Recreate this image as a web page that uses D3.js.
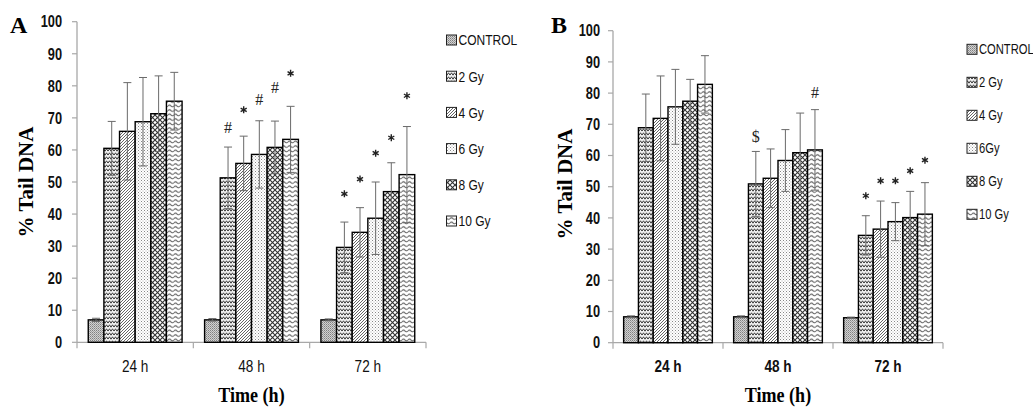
<!DOCTYPE html>
<html>
<head>
<meta charset="utf-8">
<script src="https://cdn.jsdelivr.net/npm/d3@7"></script>
<style>
  body { margin: 0; background: #fff; }
  svg { display: block; }
  .narrow { font-family: "Liberation Sans", "DejaVu Sans", sans-serif; }
  .serif { font-family: "Liberation Serif", "Times New Roman", serif; font-weight: bold; }
</style>
</head>
<body>
<div id="chart"></div>
<script>
const timePoints = ["24 h", "48 h", "72 h"];
const doseLabelsA = ["CONTROL", "2 Gy", "4 Gy", "6 Gy", "8 Gy", "10 Gy"];
const doseLabelsB = ["CONTROL", "2 Gy", "4 Gy", "6Gy", "8 Gy", "10 Gy"];
const yTicks = [0, 10, 20, 30, 40, 50, 60, 70, 80, 90, 100];

// % tail DNA, one row per dose, one value per time point
const tailA = [
  [7.0, 7.0, 7.0],
  [60.5, 51.3, 29.6],
  [65.8, 55.8, 34.3],
  [68.8, 58.6, 38.7],
  [71.3, 60.8, 47.0],
  [75.2, 63.3, 52.3]
];
const errA = [
  [0.5, 0.4, 0.3],
  [8.4, 9.6, 7.9],
  [15.2, 8.5, 7.7],
  [13.8, 10.5, 11.3],
  [11.8, 8.2, 9.0],
  [9.0, 10.3, 15.0]
];
const marksA = [
  { time: "48 h", dose: 1, sym: "#", at: 67.2 },
  { time: "48 h", dose: 2, sym: "*", at: 72.5 },
  { time: "48 h", dose: 3, sym: "#", at: 75.9 },
  { time: "48 h", dose: 4, sym: "#", at: 79.6 },
  { time: "48 h", dose: 5, sym: "*", at: 83.9 },
  { time: "72 h", dose: 1, sym: "*", at: 46.3 },
  { time: "72 h", dose: 2, sym: "*", at: 50.9 },
  { time: "72 h", dose: 3, sym: "*", at: 59.0 },
  { time: "72 h", dose: 4, sym: "*", at: 63.8 },
  { time: "72 h", dose: 5, sym: "*", at: 76.9 }
];

const tailB = [
  [8.3, 8.3, 8.0],
  [68.9, 50.9, 34.4],
  [71.9, 52.7, 36.4],
  [75.6, 58.4, 38.8],
  [77.4, 60.9, 40.1],
  [82.8, 61.8, 41.2]
];
const errB = [
  [0.3, 0.3, 0.2],
  [10.8, 10.4, 6.3],
  [13.6, 9.4, 9.0],
  [12.0, 9.9, 6.1],
  [7.0, 12.7, 8.4],
  [9.2, 12.9, 10.1]
];
const marksB = [
  { time: "48 h", dose: 1, sym: "$", at: 66.3 },
  { time: "48 h", dose: 5, sym: "#", at: 80.4 },
  { time: "72 h", dose: 1, sym: "*", at: 47.1 },
  { time: "72 h", dose: 2, sym: "*", at: 51.9 },
  { time: "72 h", dose: 3, sym: "*", at: 51.9 },
  { time: "72 h", dose: 4, sym: "*", at: 55.1 },
  { time: "72 h", dose: 5, sym: "*", at: 58.5 }
];

const svg = d3.select('#chart')
  .append('svg')
  .attr('width', 1033)
  .attr('height', 407);

// no condensed font installed, so squeeze the sans text horizontally
function narrowText(sel, x, y, size) {
  return sel.append('text')
    .attr('class', 'narrow')
    .attr('transform', `translate(${x},${y}) scale(0.8,1)`)
    .attr('font-size', size)
    .attr('fill', '#111');
}

// fill patterns, one per dose
const defs = svg.append('defs');
function pat(id, w, h, bg) {
  const p = defs.append('pattern')
    .attr('id', id)
    .attr('patternUnits', 'userSpaceOnUse')
    .attr('width', w)
    .attr('height', h);
  p.append('rect').attr('width', w).attr('height', h).attr('fill', bg);
  return p;
}
// control: dense grey dots
let p = pat('pat0', 2, 2, '#d2d2d2');
p.append('rect').attr('width', 1).attr('height', 1).attr('fill', '#808080');
p.append('rect').attr('x', 1).attr('y', 1).attr('width', 1).attr('height', 1).attr('fill', '#a0a0a0');
// 2 Gy: small zigzags
p = pat('pat1', 6, 4, '#f4f4f4');
p.append('path').attr('d', 'M0,3.2 L1.5,0.8 L3,3.2 L4.5,0.8 L6,3.2')
  .attr('fill', 'none').attr('stroke', '#3a3a3a').attr('stroke-width', 1);
// 4 Gy: diagonal lines
p = pat('pat2', 3, 3, '#fff');
p.append('path').attr('d', 'M-1,1 L1,-1 M0,3 L3,0 M2,4 L4,2')
  .attr('fill', 'none').attr('stroke', '#555').attr('stroke-width', 0.9);
// 6 Gy: sparse dots
p = pat('pat3', 3, 3, '#fff');
p.append('rect').attr('width', 1).attr('height', 1).attr('fill', '#888');
p.append('rect').attr('x', 1.5).attr('y', 1.5).attr('width', 1).attr('height', 1).attr('fill', '#b0b0b0');
// 8 Gy: diagonal cross-hatch
p = pat('pat4', 5, 5, '#fff');
p.append('path').attr('d', 'M0,0 L5,5 M5,0 L0,5')
  .attr('fill', 'none').attr('stroke', '#333').attr('stroke-width', 1.1);
// 10 Gy: horizontal waves
p = pat('pat5', 6, 4.5, '#fff');
p.append('path').attr('d', 'M0,2.5 Q1.5,0.8 3,2.5 T6,2.5')
  .attr('fill', 'none').attr('stroke', '#555').attr('stroke-width', 1);

const asterisk = d3.symbol().type(d3.symbolAsterisk).size(34);

function drawPanel(cfg) {
  const g = svg.append('g');
  const x = d3.scaleBand().domain(timePoints).range([cfg.left, cfg.right]);
  const xs = d3.scaleBand().domain(d3.range(cfg.doses.length))
    .range([0, x.bandwidth()]).paddingOuter(0.72);
  const y = d3.scaleLinear().domain([0, 100]).range([cfg.bottom, cfg.top]);

  // y axis
  g.append('line')
    .attr('x1', cfg.left).attr('x2', cfg.left)
    .attr('y1', y(100)).attr('y2', y(0))
    .attr('stroke', '#a8a8a8').attr('stroke-width', 1.3);
  yTicks.forEach(function(t) {
    g.append('line')
      .attr('x1', cfg.left - 5).attr('x2', cfg.left)
      .attr('y1', y(t)).attr('y2', y(t))
      .attr('stroke', '#a8a8a8').attr('stroke-width', 1.2);
    narrowText(g, cfg.left - cfg.tickGap, y(t), 16)
      .attr('dy', '0.36em')
      .attr('text-anchor', 'end')
      .attr('font-weight', 'bold')
      .text(t);
  });

  // x axis
  g.append('line')
    .attr('x1', cfg.left).attr('x2', cfg.right)
    .attr('y1', y(0)).attr('y2', y(0))
    .attr('stroke', '#a8a8a8').attr('stroke-width', 1.3);
  timePoints.forEach(function(t) {
    g.append('line')
      .attr('x1', x(t)).attr('x2', x(t))
      .attr('y1', y(0)).attr('y2', y(0) + 6)
      .attr('stroke', '#a8a8a8').attr('stroke-width', 1.2);
    narrowText(g, x(t) + x.bandwidth() / 2, 372, 17)
      .attr('text-anchor', 'middle')
      .attr('font-weight', cfg.catBold ? 'bold' : 'normal')
      .text(t);
  });
  g.append('line')
    .attr('x1', cfg.right).attr('x2', cfg.right)
    .attr('y1', y(0)).attr('y2', y(0) + 6)
    .attr('stroke', '#a8a8a8').attr('stroke-width', 1.2);

  // bars
  cfg.values.forEach(function(row, d) {
    row.forEach(function(v, ti) {
      g.append('rect')
        .attr('x', x(timePoints[ti]) + xs(d))
        .attr('y', y(v))
        .attr('width', xs.bandwidth())
        .attr('height', y(0) - y(v))
        .attr('fill', `url(#pat${d})`)
        .attr('stroke', '#000')
        .attr('stroke-width', 1.4);
    });
  });

  // error bars
  cfg.values.forEach(function(row, d) {
    row.forEach(function(v, ti) {
      const cx = x(timePoints[ti]) + xs(d) + xs.bandwidth() / 2;
      const e = cfg.errors[d][ti];
      const eb = g.append('g').attr('stroke', '#6a6a6a').attr('stroke-width', 1);
      eb.append('line').attr('x1', cx).attr('x2', cx).attr('y1', y(v - e)).attr('y2', y(v + e));
      eb.append('line').attr('x1', cx - 4).attr('x2', cx + 4).attr('y1', y(v + e)).attr('y2', y(v + e));
      eb.append('line').attr('x1', cx - 4).attr('x2', cx + 4).attr('y1', y(v - e)).attr('y2', y(v - e));
    });
  });

  // significance marks
  cfg.marks.forEach(function(m) {
    const cx = x(m.time) + xs(m.dose) + xs.bandwidth() / 2;
    if (m.sym === '*') {
      g.append('path')
        .attr('d', asterisk())
        .attr('transform', `translate(${cx},${y(m.at)})`)
        .attr('fill', 'none')
        .attr('stroke', '#222')
        .attr('stroke-width', 1.4);
    } else {
      g.append('text')
        .attr('x', cx)
        .attr('y', y(m.at))
        .attr('dy', '0.36em')
        .attr('text-anchor', 'middle')
        .attr('font-family', '"Liberation Serif", serif')
        .attr('font-size', 16)
        .attr('fill', '#222')
        .text(m.sym);
    }
  });

  // titles
  g.append('text')
    .attr('class', 'serif')
    .attr('x', cfg.letterX)
    .attr('y', 33)
    .attr('font-size', 24)
    .text(cfg.letter);
  g.append('text')
    .attr('class', 'serif')
    .attr('transform', `translate(${cfg.yTitleX},${cfg.yTitleY}) rotate(-90)`)
    .attr('text-anchor', 'middle')
    .attr('dy', '0.35em')
    .attr('font-size', 21)
    .text('% Tail DNA');
  g.append('text')
    .attr('class', 'serif')
    .attr('transform', `translate(${(cfg.left + cfg.right) / 2},402) scale(0.95,1.1)`)
    .attr('text-anchor', 'middle')
    .attr('font-size', 19)
    .text('Time (h)');

  // legend
  cfg.doses.forEach(function(name, d) {
    const ly = cfg.legendY + d * cfg.legendStep;
    g.append('rect')
      .attr('x', cfg.legendX)
      .attr('y', ly - 5)
      .attr('width', 10)
      .attr('height', 10)
      .attr('fill', `url(#pat${d})`)
      .attr('stroke', '#222')
      .attr('stroke-width', 1);
    narrowText(g, cfg.legendX + 12, ly, cfg.legendSize)
      .attr('dy', '0.36em')
      .text(name);
  });
}

drawPanel({
  left: 77, right: 426, top: 21.7, bottom: 342.3,
  values: tailA, errors: errA, marks: marksA, doses: doseLabelsA,
  tickGap: 15, catBold: false,
  letter: 'A', letterX: 10, yTitleX: 26, yTitleY: 182,
  legendX: 446.5, legendY: 40, legendStep: 36.2, legendSize: 15
});

drawPanel({
  left: 613, right: 943, top: 30.7, bottom: 342.7,
  values: tailB, errors: errB, marks: marksB, doses: doseLabelsB,
  tickGap: 13, catBold: true,
  letter: 'B', letterX: 551, yTitleX: 565, yTitleY: 184,
  legendX: 967, legendY: 49.3, legendStep: 33, legendSize: 14
});
</script>
</body>
</html>
